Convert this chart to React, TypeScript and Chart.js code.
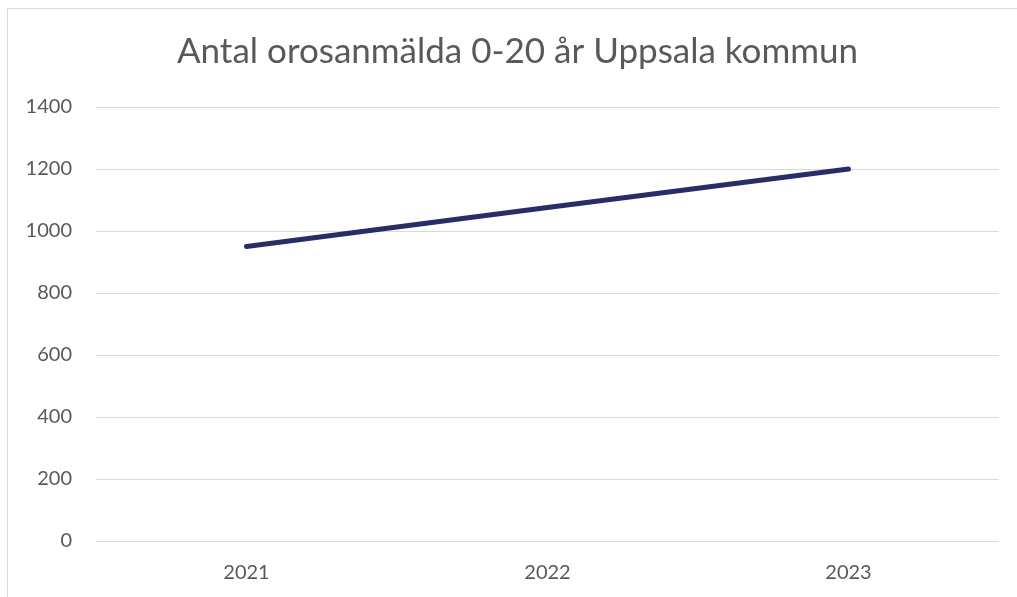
import React, { useEffect, useRef } from "react";
import { Chart, registerables } from "chart.js";

Chart.register(...registerables);

const titleText = "Antal orosanmälda 0-20 år Uppsala kommun";
const years = ["2021", "2022", "2023"];
const values = [950, 1076, 1200];
const yMin = 0;
const yMax = 1400;
const yStep = 200;

const frame = {
  id: "frame",
  beforeDraw(chart: any) {
    const ctx = chart.ctx;
    ctx.save();
    ctx.fillStyle = "#ffffff";
    ctx.fillRect(0, 0, chart.width, chart.height);
    ctx.strokeStyle = "#d9d9d9";
    ctx.lineWidth = 1;
    ctx.strokeRect(7.5, 8.5, chart.width + 10, chart.height + 10);
    ctx.restore();
  },
  afterLayout(chart: any) {
    const tb = chart.titleBlock;
    if (tb) {
      tb.left = 36;
      tb.right = 999;
    }
  },
};

export default function App() {
  const ref = useRef<HTMLCanvasElement | null>(null);
  useEffect(() => {
    if (!ref.current) return;
    const chart = new Chart(ref.current, {
      type: "line",
      data: {
        labels: years,
        datasets: [
          {
            data: values,
            borderColor: "#262d6c",
            borderWidth: 5,
            borderCapStyle: "round",
            pointRadius: 0,
            pointHoverRadius: 0,
            tension: 0,
            fill: false,
          },
        ],
      },
      options: {
        responsive: false,
        animation: false,
        devicePixelRatio: 1,
        layout: { padding: { left: 0, right: 18, top: 0, bottom: 12 } },
        plugins: {
          legend: { display: false },
          tooltip: { enabled: false },
          title: {
            display: true,
            text: titleText,
            color: "#595959",
            font: { family: "Lato", size: 35, weight: "normal" },
            padding: { top: 31, bottom: 34 },
          },
        },
        scales: {
          x: {
            type: "category",
            offset: true,
            grid: { display: false, drawTicks: false },
            border: { display: false },
            ticks: {
              color: "#595959",
              font: { family: "Lato", size: 20 },
              padding: 20,
              maxRotation: 0,
            },
            afterFit(scale: any) {
              scale.height = 44;
            },
          },
          y: {
            min: yMin,
            max: yMax,
            grid: { color: "#d9d9d9", lineWidth: 1, drawTicks: false },
            border: { display: false },
            ticks: {
              stepSize: yStep,
              color: "#595959",
              font: { family: "Lato", size: 20 },
              padding: 24,
              callback: (v: any) => String(v),
            },
            afterFit(scale: any) {
              scale.width = 96;
            },
          },
        },
      },
      plugins: [frame],
    });
    return () => chart.destroy();
  }, []);
  return (
    <div style={{ position: "absolute", left: 0, top: 0, width: 1017, height: 597 }}>
      <canvas ref={ref} width={1017} height={597} style={{ display: "block" }} />
    </div>
  );
}
